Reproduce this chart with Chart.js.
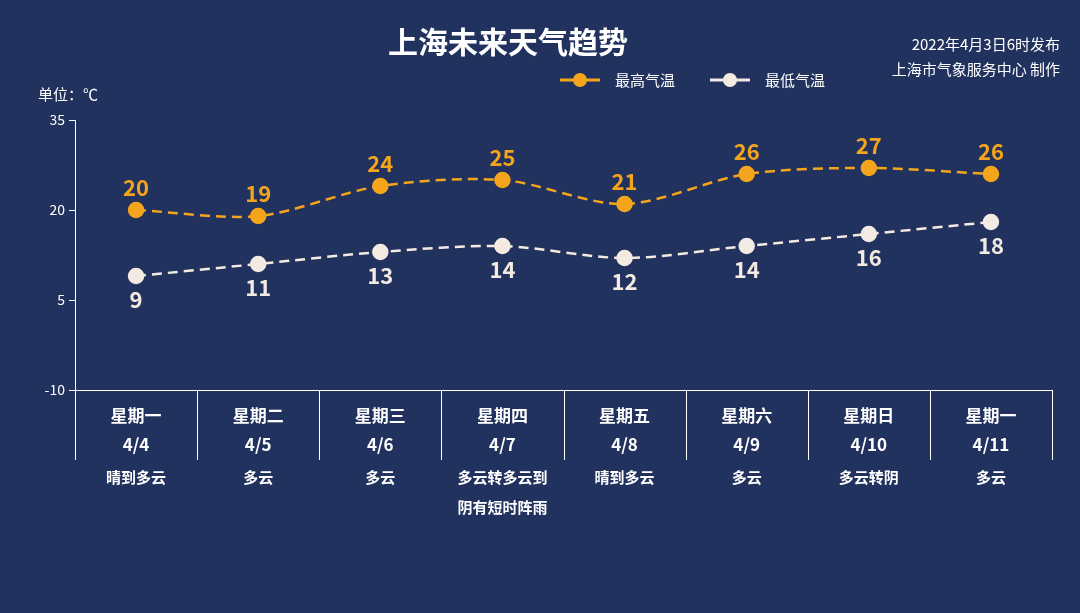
<!DOCTYPE html>
<html><head><meta charset="utf-8">
<script src="https://cdn.jsdelivr.net/npm/chart.js@4"></script>
<style>html,body{margin:0;background:#22325f;}#c{display:block}</style>
</head><body>
<div style="width:1080px;height:613px"><canvas id="c"></canvas></div>
<script>
const weekdays=["星期一","星期二","星期三","星期四","星期五","星期六","星期日","星期一"];
const dates=["4/4","4/5","4/6","4/7","4/8","4/9","4/10","4/11"];
const weather=[["晴到多云"],["多云"],["多云"],["多云转多云到","阴有短时阵雨"],["晴到多云"],["多云"],["多云转阴"],["多云"]];
const highs=[20,19,24,25,21,26,27,26];
const lows=[9,11,13,14,12,14,16,18];
const yTicks=[-10,5,20,35];
const ORANGE="#f5a51c", WHITE="#f3ebe2";
const F='"Noto Sans CJK SC","Noto Sans",sans-serif';

const deco={id:'deco',afterDraw(ch){
  const c=ch.ctx,x=ch.scales.x,y=ch.scales.y,a=ch.chartArea;
  c.save();
  c.fillStyle="#fff";c.textAlign="center";c.textBaseline="middle";
  c.font="bold 30px "+F;c.fillText("上海未来天气趋势",508,42);
  c.textAlign="right";c.font="15px "+F;
  c.fillText("2022年4月3日6时发布",1060,44);c.fillText("上海市气象服务中心 制作",1060,69);
  c.textAlign="left";c.fillText("单位：℃",38,94);
  // legend
  [[ORANGE,"最高气温",560],[WHITE,"最低气温",710]].forEach(([col,t,lx])=>{
    c.strokeStyle=col;c.lineWidth=3;c.beginPath();c.moveTo(lx,80);c.lineTo(lx+40,80);c.stroke();
    c.fillStyle=col;c.beginPath();c.arc(lx+20,80,7,0,Math.PI*2);c.fill();
    c.fillStyle="#fff";c.font="15px "+F;c.textAlign="left";c.fillText(t,lx+55,80);
  });
  // x ticks
  const n=weekdays.length,w=(a.right-a.left)/n;
  c.strokeStyle="#fff";c.lineWidth=1;
  for(let i=0;i<=n;i++){const px=Math.round(a.left+w*i)+0.5;c.beginPath();c.moveTo(px,a.bottom);c.lineTo(px,a.bottom+70);c.stroke();}
  c.textAlign="center";c.fillStyle="#fff";
  for(let i=0;i<n;i++){
    const px=x.getPixelForValue(i);
    c.font="bold 17px "+F;c.fillText(weekdays[i],px,416);c.fillText(dates[i],px,445);
    c.font="bold 15px "+F;weather[i].forEach((t,j)=>c.fillText(t,px,477+j*30));
  }
  // data labels
  c.font="bold 22px "+F;
  ch.data.datasets.forEach((ds,di)=>{
    ch.getDatasetMeta(di).data.forEach((p,i)=>{
      c.fillStyle=di==0?ORANGE:WHITE;
      c.fillText(ds.data[i],p.x,di==0?p.y-22:p.y+24);
    });
  });
  c.restore();
}};

new Chart(document.getElementById('c'),{
  type:'line',
  data:{labels:dates,datasets:[
    {data:highs,borderColor:ORANGE,backgroundColor:ORANGE,borderDash:[10,6],borderWidth:2.5,pointRadius:7,pointBackgroundColor:ORANGE,pointBorderColor:ORANGE,tension:0.3},
    {data:lows,borderColor:WHITE,backgroundColor:WHITE,borderDash:[10,6],borderWidth:2.5,pointRadius:7,pointBackgroundColor:WHITE,pointBorderColor:WHITE,tension:0.3}
  ]},
  options:{responsive:true,maintainAspectRatio:false,animation:false,
    layout:{padding:{top:120,right:28,left:0,bottom:0}},
    plugins:{legend:{display:false},tooltip:{enabled:false}},
    scales:{
      x:{offset:true,grid:{display:false},border:{color:"#fff"},ticks:{display:false},afterFit(s){s.height=223;}},
      y:{min:-10,max:35,afterBuildTicks(s){s.ticks=yTicks.map(v=>({value:v}));},
        grid:{drawOnChartArea:false,color:"#fff",tickLength:6},border:{color:"#fff"},
        ticks:{color:"#fff",font:{size:14,family:F},padding:4},afterFit(s){s.width=75;}}
    }
  },
  plugins:[deco]
});
</script>
</body></html>
